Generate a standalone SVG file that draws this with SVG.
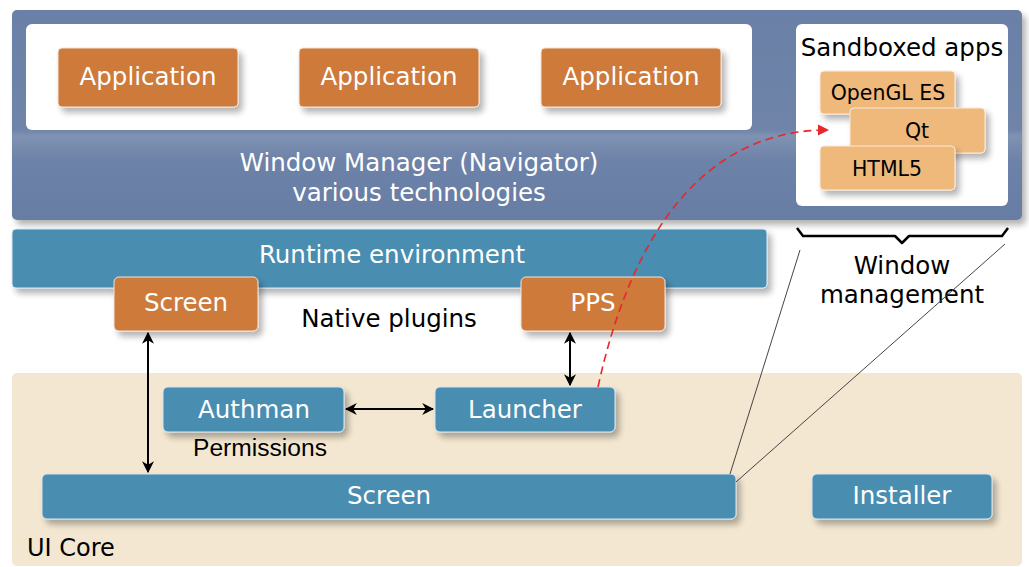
<svg xmlns="http://www.w3.org/2000/svg" width="1029" height="567" viewBox="0 0 1029 567">
<defs>
<filter id="sh" x="-20%" y="-20%" width="150%" height="160%">
<feGaussianBlur in="SourceAlpha" stdDeviation="3"/>
<feOffset dx="4" dy="5" result="b"/>
<feComponentTransfer><feFuncA type="linear" slope="0.3"/></feComponentTransfer>
<feMerge><feMergeNode/><feMergeNode in="SourceGraphic"/></feMerge>
</filter>
<linearGradient id="wm" x1="0" y1="0" x2="0" y2="1">
<stop offset="0" stop-color="#6B80A6"/>
<stop offset="0.57" stop-color="#6F84A9"/>
<stop offset="0.6" stop-color="#7F92B3"/>
<stop offset="0.72" stop-color="#6D82A8"/>
<stop offset="1" stop-color="#687DA4"/>
</linearGradient>
<marker id="ah" viewBox="0 0 10 10" refX="9" refY="5" markerWidth="6" markerHeight="6" orient="auto-start-reverse" markerUnits="strokeWidth">
<path d="M0,0 L10,5 L0,10 L3,5 z" fill="#000"/>
</marker>
<marker id="rh" viewBox="0 0 10 10" refX="9" refY="5" markerWidth="7" markerHeight="7" orient="auto" markerUnits="strokeWidth">
<path d="M0,0 L10,5 L0,10 z" fill="#E8262B"/>
</marker>
<style>
text{font-family:"DejaVu Sans",Verdana,sans-serif;}
.w{fill:#fff;font-size:24.5px;text-anchor:middle;}
.k{fill:#000;font-size:24.5px;text-anchor:middle;}
.s{fill:#000;font-size:20.5px;text-anchor:middle;}
.org{fill:#CD7A3A;stroke:#F2E4D8;stroke-width:1;}
.lor{fill:#F0B97B;stroke:#FBEBD6;stroke-width:1;}
.blu{fill:#4A8DB0;stroke:#D5E6EF;stroke-width:1;}
.arr{stroke:#000;stroke-width:2;fill:none;marker-start:url(#ah);marker-end:url(#ah);}
</style>
</defs>

<g id="window-manager">
<rect x="12" y="10" width="1010" height="210" rx="5" fill="url(#wm)" filter="url(#sh)"/>
<rect x="26" y="24" width="726" height="106" rx="6" fill="#fff"/>
<text class="w" x="419" y="171">Window Manager (Navigator)</text>
<text class="w" x="419" y="201">various technologies</text>
</g>
<g id="app1"><rect class="org" x="58" y="48" width="180" height="59" rx="4" filter="url(#sh)"/><text class="w" x="148" y="85">Application</text></g>
<g id="app2"><rect class="org" x="299" y="48" width="180" height="59" rx="4" filter="url(#sh)"/><text class="w" x="389" y="85">Application</text></g>
<g id="app3"><rect class="org" x="541" y="48" width="180" height="59" rx="4" filter="url(#sh)"/><text class="w" x="631" y="85">Application</text></g>

<g id="sandboxed-apps">
<rect x="796" y="24" width="212" height="182" rx="6" fill="#fff"/>
<text class="k" x="902" y="56">Sandboxed apps</text>
</g>
<g id="opengl"><rect class="lor" x="820" y="71" width="135" height="43" rx="4" filter="url(#sh)"/><text class="s" x="888" y="100">OpenGL ES</text></g>
<g id="qt"><rect class="lor" x="850" y="108" width="135" height="45" rx="4" filter="url(#sh)"/><text class="s" x="917" y="138">Qt</text></g>
<g id="html5"><rect class="lor" x="820" y="146" width="135" height="44" rx="4" filter="url(#sh)"/><text class="s" x="887" y="176">HTML5</text></g>

<g id="runtime"><rect class="blu" x="12" y="229" width="755" height="59" rx="4" filter="url(#sh)"/><text class="w" x="392" y="263">Runtime environment</text></g>
<g id="screen-plugin"><rect class="org" x="114" y="277" width="144" height="54" rx="5" filter="url(#sh)"/><text class="w" x="186" y="311">Screen</text></g>
<g id="pps"><rect class="org" x="521" y="277" width="144" height="54" rx="5" filter="url(#sh)"/><text class="w" x="593" y="311">PPS</text></g>
<g id="native-plugins"><text class="k" x="389" y="327">Native plugins</text></g>

<g id="window-management">
<path d="M797,228 L803,236 L895,236 L902,243 L909,236 L1002,236 L1008,228" fill="none" stroke="#000" stroke-width="2.5" stroke-linejoin="round"/>
<text class="k" x="902" y="274">Window</text>
<text class="k" x="902" y="303">management</text>
</g>

<g id="ui-core">
<rect x="12" y="373" width="1010" height="193" rx="5" fill="#F3E7D1"/>
<text x="27" y="556" style="font-size:24px;fill:#000;">UI Core</text>
</g>
<g id="authman"><rect class="blu" x="163" y="387" width="181" height="45" rx="5" filter="url(#sh)"/><text class="w" x="254" y="418">Authman</text>
<text x="260" y="456" textLength="134" lengthAdjust="spacingAndGlyphs" style="font-family:'Liberation Sans',Arial,sans-serif;font-size:23px;fill:#000;text-anchor:middle;">Permissions</text></g>
<g id="launcher"><rect class="blu" x="435" y="387" width="180" height="45" rx="5" filter="url(#sh)"/><text class="w" x="525" y="418">Launcher</text></g>
<g id="screen-core"><rect class="blu" x="42" y="474" width="694" height="45" rx="5" filter="url(#sh)"/><text class="w" x="389" y="504">Screen</text></g>
<g id="installer"><rect class="blu" x="812" y="474" width="180" height="45" rx="5" filter="url(#sh)"/><text class="w" x="902" y="504">Installer</text></g>

<g id="connectors">
<line x1="800" y1="250" x2="730" y2="474" stroke="#444" stroke-width="1"/>
<line x1="1005" y1="244" x2="736" y2="482" stroke="#444" stroke-width="1"/>
<line class="arr" x1="148" y1="333" x2="148" y2="472"/>
<line class="arr" x1="570" y1="333" x2="570" y2="385"/>
<line class="arr" x1="346" y1="409" x2="433" y2="409"/>
<path d="M598,387 C630,240 700,130 828,130" fill="none" stroke="#E8262B" stroke-width="1.6" stroke-dasharray="8,5" marker-end="url(#rh)"/>
</g>
</svg>
